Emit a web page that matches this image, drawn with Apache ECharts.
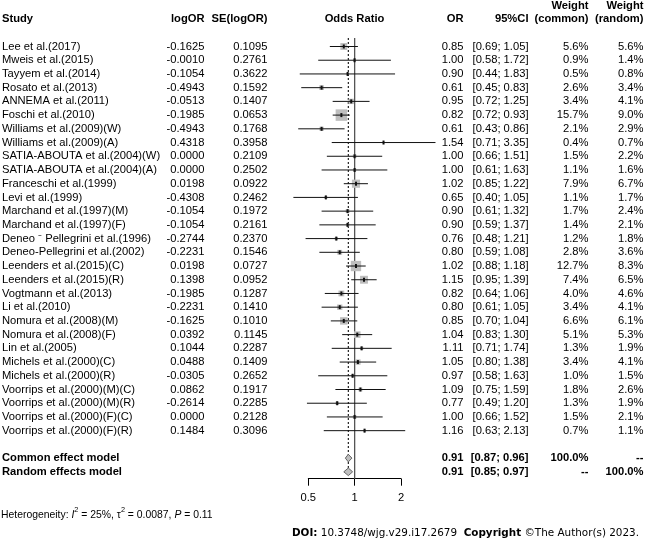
<!DOCTYPE html>
<html>
<head>
<meta charset="utf-8">
<script src="https://cdn.jsdelivr.net/npm/echarts@6/dist/echarts.min.js"></script>
<style>html,body{margin:0;padding:0;background:#fff}#c{width:645px;height:540px}</style>
</head>
<body>
<div id="c"></div>
<script>
const studies = [
  'Lee et al.(2017)', 'Mweis et al.(2015)', 'Tayyem et al.(2014)', 'Rosato et al.(2013)',
  'ANNEMA et al.(2011)', 'Foschi et al.(2010)', 'Williams et al.(2009)(W)', 'Williams et al.(2009)(A)',
  'SATIA-ABOUTA et al.(2004)(W)', 'SATIA-ABOUTA et al.(2004)(A)', 'Franceschi et al.(1999)', 'Levi et al.(1999)',
  'Marchand et al.(1997)(M)', 'Marchand et al.(1997)(F)', 'Deneo \u207B Pellegrini et al.(1996)', 'Deneo-Pellegrini et al.(2002)',
  'Leenders et al.(2015)(C)', 'Leenders et al.(2015)(R)', 'Vogtmann et al.(2013)', 'Li et al.(2010)',
  'Nomura et al.(2008)(M)', 'Nomura et al.(2008)(F)', 'Lin et al.(2005)', 'Michels et al.(2000)(C)',
  'Michels et al.(2000)(R)', 'Voorrips et al.(2000)(M)(C)', 'Voorrips et al.(2000)(M)(R)', 'Voorrips et al.(2000)(F)(C)',
  'Voorrips et al.(2000)(F)(R)'
];
const logOR = [-0.1625, -0.0010, -0.1054, -0.4943, -0.0513, -0.1985, -0.4943, 0.4318, 0.0000, 0.0000,
  0.0198, -0.4308, -0.1054, -0.1054, -0.2744, -0.2231, 0.0198, 0.1398, -0.1985, -0.2231,
  -0.1625, 0.0392, 0.1044, 0.0488, -0.0305, 0.0862, -0.2614, 0.0000, 0.1484];
const seLogOR = [0.1095, 0.2761, 0.3622, 0.1592, 0.1407, 0.0653, 0.1768, 0.3958, 0.2109, 0.2502,
  0.0922, 0.2462, 0.1972, 0.2161, 0.2370, 0.1546, 0.0727, 0.0952, 0.1287, 0.1410,
  0.1010, 0.1145, 0.2287, 0.1409, 0.2652, 0.1917, 0.2285, 0.2128, 0.3096];
const oddsRatio = [0.85, 1.00, 0.90, 0.61, 0.95, 0.82, 0.61, 1.54, 1.00, 1.00,
  1.02, 0.65, 0.90, 0.90, 0.76, 0.80, 1.02, 1.15, 0.82, 0.80,
  0.85, 1.04, 1.11, 1.05, 0.97, 1.09, 0.77, 1.00, 1.16];
const ciLower = [0.69, 0.58, 0.44, 0.45, 0.72, 0.72, 0.43, 0.71, 0.66, 0.61,
  0.85, 0.40, 0.61, 0.59, 0.48, 0.59, 0.88, 0.95, 0.64, 0.61,
  0.70, 0.83, 0.71, 0.80, 0.58, 0.75, 0.49, 0.66, 0.63];
const ciUpper = [1.05, 1.72, 1.83, 0.83, 1.25, 0.93, 0.86, 3.35, 1.51, 1.63,
  1.22, 1.05, 1.32, 1.37, 1.21, 1.08, 1.18, 1.39, 1.06, 1.05,
  1.04, 1.30, 1.74, 1.38, 1.63, 1.59, 1.20, 1.52, 2.13];
const weightCommon = [5.6, 0.9, 0.5, 2.6, 3.4, 15.7, 2.1, 0.4, 1.5, 1.1,
  7.9, 1.1, 1.7, 1.4, 1.2, 2.8, 12.7, 7.4, 4.0, 3.4,
  6.6, 5.1, 1.3, 3.4, 1.0, 1.8, 1.3, 1.5, 0.7];
const weightRandom = [5.6, 1.4, 0.8, 3.4, 4.1, 9.0, 2.9, 0.7, 2.2, 1.6,
  6.7, 1.7, 2.4, 2.1, 1.8, 3.6, 8.3, 6.5, 4.6, 4.1,
  6.1, 5.3, 1.9, 4.1, 1.5, 2.6, 1.9, 2.1, 1.1];

const summaryLabels = ['Common effect model', 'Random effects model'];
const summaryOR = [0.91, 0.91];
const summaryLower = [0.87, 0.85];
const summaryUpper = [0.96, 0.97];
const summaryWeightCommon = ['100.0%', '--'];
const summaryWeightRandom = ['--', '100.0%'];
const axisTickValues = [0.5, 1, 2];
const heterogeneity = { I2: '25%', tau2: '0.0087', p: '0.11' };

// ---------- layout ----------
const FONT = "'Liberation Sans', Arial, sans-serif";
const FS = 11.2;
const ROW_H = 13.72;
const Y_MIN = -0.5, Y_MAX = 31.5;
const GRID_TOP = 46.5 - 0.5 * ROW_H;
const GRID_H = (Y_MAX - Y_MIN) * ROW_H;
const summaryRow0 = studies.length + 1;
const SQ = 2.9;
const DOI_FONT = "'DejaVu Sans', Verdana, sans-serif";

const COL = { study: 2, logOR: 204.5, se: 267.5, or: 463.5, ci: 528.5, wc: 588.5, wr: 643.5 };

function txt(x, y, text, align, bold) {
  return { type: 'text', x: x, y: y, silent: true,
    style: { text: text, fill: '#000', fontSize: FS, fontFamily: FONT, fontWeight: bold ? 'bold' : 'normal',
      align: align, verticalAlign: 'middle' } };
}

const studyData = studies.map((s, i) => [ciLower[i], ciUpper[i], Math.exp(logOR[i]), i, weightCommon[i]]);
const summaryData = summaryLabels.map((s, i) => [summaryLower[i], summaryUpper[i], summaryOR[i], summaryRow0 + i]);
const refLines = [[1, -0.62, Y_MAX, 0], [summaryOR[0], -0.62, summaryRow0 + 0.75, 1]];

const option = {
  animation: false,
  backgroundColor: '#fff',
  grid: [
    { left: 284.45, width: 153.97, top: GRID_TOP, height: GRID_H },
    { left: 308.3, width: 92.7, top: 470, height: 8.7 }
  ],
  xAxis: [
    { type: 'log', logBase: 10, min: 0.35, max: 3.5, gridIndex: 0, show: false },
    { type: 'log', logBase: 2, min: axisTickValues[0], max: axisTickValues[axisTickValues.length - 1], gridIndex: 1,
      splitNumber: 2, position: 'bottom',
      axisLine: { lineStyle: { color: '#000', width: 1 } },
      axisTick: { length: 7, lineStyle: { color: '#000' } },
      splitLine: { show: false },
      axisLabel: { color: '#000', fontSize: FS, fontFamily: FONT, margin: 14 } }
  ],
  yAxis: [
    { type: 'value', inverse: true, min: Y_MIN, max: Y_MAX, gridIndex: 0, show: false },
    { type: 'value', gridIndex: 1, show: false }
  ],
  series: [
    { type: 'custom', xAxisIndex: 0, yAxisIndex: 0, data: refLines, z: 1,
      renderItem: function (params, api) {
        const a = api.coord([api.value(0), api.value(1)]);
        const b = api.coord([api.value(0), api.value(2)]);
        const dotted = api.value(3) === 1;
        return { type: 'line', shape: { x1: a[0], y1: a[1], x2: b[0], y2: b[1] },
          style: { stroke: dotted ? '#222' : '#555', lineWidth: dotted ? 1.2 : 1.3, lineDash: dotted ? [2, 2] : null } };
      } },
    { type: 'custom', xAxisIndex: 0, yAxisIndex: 0, data: studyData, z: 2,
      encode: { x: [0, 1, 2], y: 3 },
      renderItem: function (params, api) {
        const y = api.value(3);
        const lo = api.coord([api.value(0), y]);
        const hi = api.coord([api.value(1), y]);
        const est = api.coord([api.value(2), y]);
        const side = SQ * Math.sqrt(api.value(4));
        return { type: 'group', children: [
          { type: 'rect', shape: { x: est[0] - side / 2, y: est[1] - side / 2, width: side, height: side }, style: { fill: '#BEBEBE' } },
          { type: 'line', shape: { x1: lo[0], y1: lo[1], x2: hi[0], y2: hi[1] }, style: { stroke: '#111', lineWidth: 1 } },
          { type: 'rect', shape: { x: est[0] - 1, y: est[1] - 2, width: 2, height: 4 }, style: { fill: '#111' } }
        ] };
      } },
    { type: 'custom', xAxisIndex: 0, yAxisIndex: 0, data: summaryData, z: 2,
      encode: { x: [0, 1, 2], y: 3 },
      renderItem: function (params, api) {
        const y = api.value(3);
        const lo = api.coord([api.value(0), y]);
        const hi = api.coord([api.value(1), y]);
        const est = api.coord([api.value(2), y]);
        const h = 3.8;
        return { type: 'polygon',
          shape: { points: [[lo[0], lo[1]], [est[0], est[1] - h], [hi[0], hi[1]], [est[0], est[1] + h]] },
          style: { fill: '#BEBEBE', stroke: '#666', lineWidth: 1 } };
      } },
    { type: 'custom', xAxisIndex: 0, yAxisIndex: 0, data: studies.map((s, i) => [1, i]), z: 3,
      renderItem: function (params, api) {
        const i = params.dataIndex;
        const y = api.coord([1, api.value(1)])[1];
        return { type: 'group', children: [
          txt(COL.study, y, studies[i], 'left'),
          txt(COL.logOR, y, logOR[i].toFixed(4), 'right'),
          txt(COL.se, y, seLogOR[i].toFixed(4), 'right'),
          txt(COL.or, y, oddsRatio[i].toFixed(2), 'right'),
          txt(COL.ci, y, '[' + ciLower[i].toFixed(2) + '; ' + ciUpper[i].toFixed(2) + ']', 'right'),
          txt(COL.wc, y, weightCommon[i].toFixed(1) + '%', 'right'),
          txt(COL.wr, y, weightRandom[i].toFixed(1) + '%', 'right')
        ] };
      } },
    { type: 'custom', xAxisIndex: 0, yAxisIndex: 0, data: summaryLabels.map((s, i) => [1, summaryRow0 + i]), z: 3,
      renderItem: function (params, api) {
        const i = params.dataIndex;
        const y = api.coord([1, api.value(1)])[1];
        return { type: 'group', children: [
          txt(COL.study, y, summaryLabels[i], 'left', true),
          txt(COL.or, y, summaryOR[i].toFixed(2), 'right', true),
          txt(COL.ci, y, '[' + summaryLower[i].toFixed(2) + '; ' + summaryUpper[i].toFixed(2) + ']', 'right', true),
          txt(COL.wc, y, summaryWeightCommon[i], 'right', true),
          txt(COL.wr, y, summaryWeightRandom[i], 'right', true)
        ] };
      } }
  ],
  graphic: [
    txt(COL.study, 19, 'Study', 'left', true),
    txt(COL.logOR, 19, 'logOR', 'right', true),
    txt(COL.se, 19, 'SE(logOR)', 'right', true),
    txt(354.5, 19, 'Odds Ratio', 'center', true),
    txt(COL.or, 19, 'OR', 'right', true),
    txt(COL.ci, 19, '95%CI', 'right', true),
    txt(COL.wc, 6, 'Weight', 'right', true),
    txt(COL.wc, 19, '(common)', 'right', true),
    txt(COL.wr, 6, 'Weight', 'right', true),
    txt(COL.wr, 19, '(random)', 'right', true),
    { type: 'text', x: 1, y: 513, silent: true,
      style: {
        text: '{n|Heterogeneity: }{i|I}{s|2}{n| = ' + heterogeneity.I2 + ', \u03C4}{s|2}{n| = ' + heterogeneity.tau2 + ', }{i|P}{n| = ' + heterogeneity.p + '}',
        verticalAlign: 'middle', align: 'left', fill: '#000', fontFamily: FONT, fontSize: 10.4,
        rich: {
          n: { fontSize: 10.4, fontFamily: FONT, fill: '#000', verticalAlign: 'bottom', lineHeight: 14 },
          i: { fontSize: 10.4, fontFamily: FONT, fill: '#000', fontStyle: 'italic', verticalAlign: 'bottom', lineHeight: 14 },
          s: { fontSize: 7.3, fontFamily: FONT, fill: '#000', verticalAlign: 'top', lineHeight: 14 }
        }
      } },
    { type: 'text', x: 639, y: 533, silent: true,
      style: {
        text: '{b|DOI:} {n|10.3748/wjg.v29.i17.2679}  {b|Copyright} {n|\u00A9The Author(s) 2023.}',
        align: 'right', verticalAlign: 'middle', fontFamily: DOI_FONT, fontSize: 10.4, fill: '#000',
        rich: {
          b: { fontWeight: 'bold', fontSize: 10.4, fontFamily: DOI_FONT, fill: '#000' },
          n: { fontSize: 10.4, fontFamily: DOI_FONT, fill: '#000' }
        }
      } }
  ]
};

const chart = echarts.init(document.getElementById('c'), null, { renderer: 'canvas' });
chart.setOption(option);
</script>
</body>
</html>
